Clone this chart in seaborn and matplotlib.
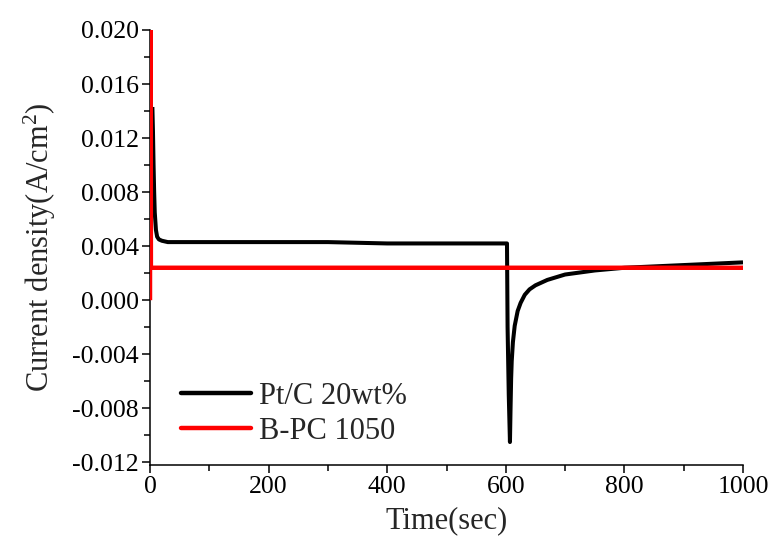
import numpy as np
import pandas as pd
import matplotlib
matplotlib.use("Agg")
import matplotlib.pyplot as plt
from matplotlib.ticker import MultipleLocator
from matplotlib.lines import Line2D
import seaborn as sns

# Pt/C 20wt% chronoamperometry (time in s, current density in A/cm2)
ptc_time = [4, 5, 6, 7, 8, 10, 12, 15, 20, 30, 50, 100, 200, 300, 400, 500, 600, 602,
            603, 604, 605, 607, 608, 609, 610, 612, 615, 620, 625, 632, 640, 650,
            670, 700, 750, 800, 850, 900, 950, 1000]
ptc_current = [0.0143, 0.0125, 0.0100, 0.0080, 0.0065, 0.0052, 0.0047, 0.0045, 0.0044,
               0.0043, 0.0043, 0.0043, 0.0043, 0.0043, 0.0042, 0.0042, 0.0042, 0.0042,
               -0.0020, -0.0045, -0.0070, -0.0105, -0.0080, -0.0058, -0.0045, -0.0031,
               -0.0019, -0.0008, -0.0002, 0.0004, 0.0008, 0.0011, 0.0015, 0.0019,
               0.0022, 0.0024, 0.0025, 0.0026, 0.0027, 0.0028]

# B-PC 1050
bpc_time = [0.0, 0.5, 1.0, 1.5, 100, 300, 500, 700, 900, 1000]
bpc_current = [0.0, 0.030, 0.030, 0.0024, 0.0024, 0.0024, 0.0024, 0.0024, 0.0024, 0.0024]

series_names = ["Pt/C 20wt%", "B-PC 1050"]
series_colors = ["black", "red"]
x_ticks = [0, 200, 400, 600, 800, 1000]
y_ticks = [-0.012, -0.008, -0.004, 0.000, 0.004, 0.008, 0.012, 0.016, 0.020]

df = pd.concat([
    pd.DataFrame({"time": ptc_time, "current": ptc_current, "sample": series_names[0]}),
    pd.DataFrame({"time": bpc_time, "current": bpc_current, "sample": series_names[1]}),
], ignore_index=True)

sns.set_style("ticks")
plt.rcParams["font.family"] = ["Liberation Serif", "DejaVu Serif"]
plt.rcParams["mathtext.fontset"] = "custom"
plt.rcParams["mathtext.rm"] = "Liberation Serif"
plt.rcParams["mathtext.it"] = "Liberation Serif:italic"

fig = plt.figure(figsize=(7.72, 5.45), dpi=100)
ax = fig.add_axes([150 / 772, 1 - 465 / 545, (743 - 150) / 772, (465 - 30) / 545])

sns.lineplot(data=df, x="time", y="current", hue="sample", hue_order=series_names,
             palette=dict(zip(series_names, series_colors)), sort=False,
             estimator=None, ax=ax, legend=False)
lines = ax.get_lines()
lines[0].set_linewidth(2.9)
lines[0].set_zorder(2)
lines[1].set_linewidth(3.2)
lines[1].set_zorder(3)
for ln in lines:
    ln.set_solid_capstyle("butt")
    ln.set_solid_joinstyle("round")

ax.set_xlim(0, 1000)
ax.set_ylim(-0.0122, 0.020)
ax.set_xticks(x_ticks)
ax.set_xticklabels([str(v) for v in x_ticks])
ax.set_yticks(y_ticks)
ax.set_yticklabels(["%.3f" % v for v in y_ticks])
ax.xaxis.set_minor_locator(MultipleLocator(100))
ax.yaxis.set_minor_locator(MultipleLocator(0.002))

for side in ["top", "right"]:
    ax.spines[side].set_visible(False)
for side in ["left", "bottom"]:
    ax.spines[side].set_linewidth(1.1)
    ax.spines[side].set_color("black")

ax.tick_params(axis="both", which="major", direction="out", length=6, width=1.1,
               labelsize=18.5, colors="black", pad=2)
ax.tick_params(axis="both", which="minor", direction="out", length=4, width=1.1,
               colors="black")

ax.set_xlabel("Time(sec)", fontsize=22, labelpad=6)
ax.set_ylabel("Current density(A/cm$^2$)", fontsize=22, labelpad=10)

handles = [Line2D([], [], color=c, lw=3.2) for c in series_colors]
leg = fig.legend(handles, series_names, loc="upper left",
                 bbox_to_anchor=(181 / 772, 1 - 382 / 545), frameon=False,
                 fontsize=22, handlelength=2.3, handletextpad=0.25,
                 labelspacing=0.2, borderpad=0, borderaxespad=0)

fig.savefig("out.png", dpi=100)
